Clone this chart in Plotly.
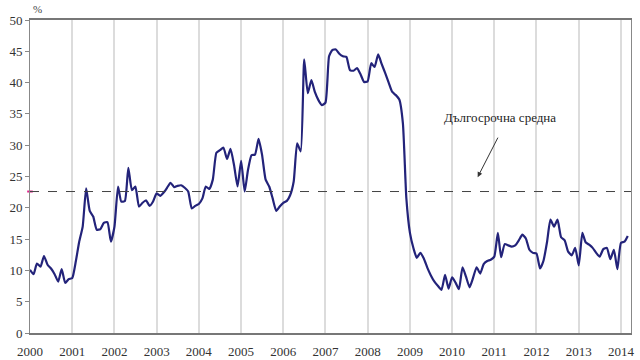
import pandas as pd
import plotly.graph_objects as go

# Monthly values, Jan 2000 .. Mar 2014
v2000 = [10.1, 9.4, 11.1, 10.6, 12.3, 10.9, 10.3, 9.4, 8.2, 10.2, 8.0, 8.6]
v2001 = [8.8, 11.5, 14.5, 17.0, 23.1, 19.5, 18.6, 16.5, 16.6, 17.6, 17.7, 14.6]
v2002 = [17.0, 23.4, 21.0, 21.1, 26.4, 22.8, 23.4, 20.2, 20.8, 21.2, 20.3, 21.0]
v2003 = [22.3, 21.9, 22.4, 23.2, 24.0, 23.3, 23.5, 23.6, 23.2, 22.6, 19.9, 20.3]
v2004 = [20.6, 21.5, 23.4, 23.0, 24.5, 28.8, 29.2, 29.6, 27.8, 29.4, 26.8, 23.4]
v2005 = [27.5, 22.6, 26.0, 28.4, 28.5, 31.0, 28.5, 24.5, 23.4, 21.5, 19.5, 20.2]
v2006 = [20.8, 21.1, 22.0, 24.2, 30.3, 29.0, 43.7, 38.3, 40.4, 38.5, 37.2, 36.4]
v2007 = [36.8, 44.2, 45.2, 45.3, 44.6, 44.2, 44.1, 42.0, 41.9, 42.3, 41.3, 40.1]
v2008 = [40.2, 43.1, 42.5, 44.5, 43.0, 41.5, 40.0, 38.5, 38.0, 37.3, 33.5, 21.5]
v2009 = [16.0, 13.5, 12.0, 12.8, 11.9, 10.4, 9.2, 8.2, 7.5, 6.9, 9.3, 7.1]
v2010 = [8.9, 8.0, 7.0, 10.5, 9.0, 7.3, 8.8, 10.5, 9.5, 11.0, 11.5, 11.7]
v2011 = [12.2, 16.0, 12.1, 14.2, 14.0, 13.8, 14.0, 14.8, 15.7, 15.1, 13.3, 12.8]
v2012 = [12.7, 10.3, 11.5, 14.5, 18.1, 17.0, 18.1, 15.3, 14.8, 13.0, 12.4, 13.6]
v2013 = [10.8, 16.0, 14.5, 14.1, 13.6, 12.8, 12.2, 13.4, 13.6, 11.8, 13.3, 10.2]
v2014 = [14.4, 14.6, 15.5]

values = (v2000 + v2001 + v2002 + v2003 + v2004 + v2005 + v2006 + v2007
          + v2008 + v2009 + v2010 + v2011 + v2012 + v2013 + v2014)
dates = pd.date_range("2000-01-01", periods=len(values), freq="MS")

long_term_mean = 22.6
mean_label = "Дългосрочна средна"
unit_label = "%"
year_ticks = [f"{y}-01-01" for y in range(2000, 2015)]
year_labels = [str(y) for y in range(2000, 2015)]

FONT = "Liberation Serif, Times New Roman, serif"

fig = go.Figure()
fig.add_trace(go.Scatter(
    x=dates, y=values, mode="lines",
    line=dict(color="#23237a", width=2.2, shape="spline", smoothing=0.5),
    showlegend=False, hoverinfo="skip"))

fig.add_hline(y=long_term_mean, line=dict(color="#444444", width=1, dash="dash"))

# small magenta mark at left edge
fig.add_trace(go.Scatter(
    x=[dates[0]], y=[long_term_mean], mode="markers",
    marker=dict(symbol="line-ew", size=4, line=dict(color="#e0208a", width=2)),
    showlegend=False, hoverinfo="skip", cliponaxis=False))

fig.add_annotation(x="2011-02-20", y=34.4, text=mean_label, showarrow=False,
                   font=dict(family=FONT, size=13, color="#222222"))
fig.add_annotation(x="2010-08-10", y=24.9, text="", showarrow=True,
                   ax=21, ay=-41, arrowhead=2, arrowsize=1, arrowwidth=1,
                   arrowcolor="#333333")
fig.add_annotation(xref="paper", yref="paper", x=0.0, y=1.0, xanchor="left",
                   yanchor="bottom", yshift=3, xshift=1, text=unit_label,
                   showarrow=False, font=dict(family=FONT, size=11, color="#444444"))

fig.update_layout(
    width=640, height=360,
    margin=dict(l=30, r=9, t=20, b=27),
    paper_bgcolor="white", plot_bgcolor="white",
    font=dict(family=FONT, size=13, color="#333333"),
)
fig.update_xaxes(
    type="date", range=["2000-01-01", "2014-03-29"],
    tickvals=year_ticks, ticktext=year_labels,
    showgrid=True, gridcolor="#dcdcdc", gridwidth=1.5,
    showline=True, linecolor="#777777", linewidth=1.5, mirror=True,
    ticks="", ticklabelstandoff=6, zeroline=False, automargin=False,
    tickfont=dict(family=FONT, size=13, color="#333333"))
fig.update_yaxes(
    range=[0, 50], dtick=5, tick0=0,
    showgrid=False, zeroline=False, automargin=False,
    showline=True, linecolor="#888888", linewidth=1, mirror=True,
    ticks="outside", ticklen=4, tickcolor="#888888",
    tickfont=dict(family=FONT, size=13, color="#333333"))

fig.write_html("out.html", config={"displayModeBar": False},
               post_script="document.body.style.margin='0';document.body.style.overflow='hidden';")
